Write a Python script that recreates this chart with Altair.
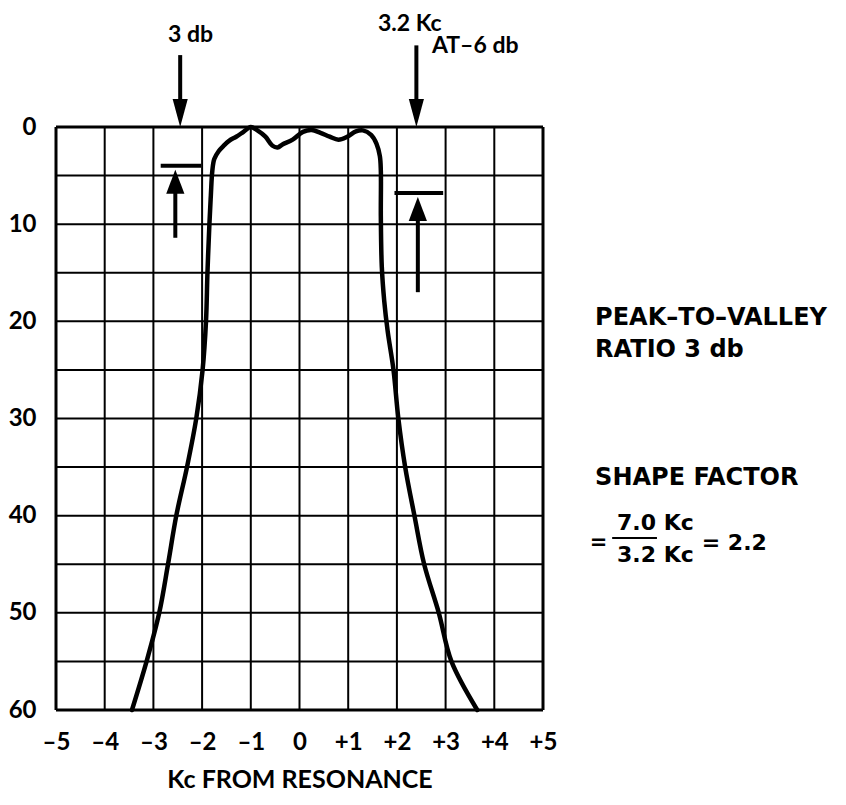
import altair as alt
import pandas as pd

# ---- curve (Kc from resonance, attenuation in db) ----
curve_kc = [-3.44, -3.14, -2.88, -2.70, -2.53, -2.31, -2.12, -1.99, -1.92, -1.89,
            -1.85, -1.82, -1.79, -1.75, -1.66, -1.55, -1.44, -1.30, -1.15, -1.00,
            -0.88, -0.70, -0.56, -0.45, -0.35, -0.14, 0.07, 0.25, 0.43, 0.62,
            0.80, 0.98, 1.16, 1.30, 1.47, 1.58, 1.65, 1.67, 1.67, 1.69,
            1.74, 1.81, 1.93, 2.03, 2.17, 2.36, 2.56, 2.86, 3.12, 3.65]
curve_db = [60, 55, 50, 45, 40, 35, 30, 25, 20, 15,
            10, 7, 4.5, 3.3, 2.5, 1.9, 1.4, 1.0, 0.5, 0.0,
            0.3, 1.0, 1.9, 2.1, 1.8, 1.3, 0.5, 0.3, 0.6, 1.0,
            1.3, 1.0, 0.45, 0.35, 0.8, 1.7, 3.0, 4.5, 9.2, 14.4,
            17.9, 21, 25, 30, 35, 40, 45, 50, 55, 60]

# ---- grid & ticks ----
grid_kc = [-4, -3, -2, -1, 0, 1, 2, 3, 4]
grid_db = [5, 10, 15, 20, 25, 30, 35, 40, 45, 50, 55]
border_kc = [-5, 5]
border_db = [0, 60]
tick_kc = [-5, -4, -3, -2, -1, 0, 1, 2, 3, 4, 5]
tick_db = [0, 10, 20, 30, 40, 50, 60]

# ---- arrows ----
shaft_kc = [-2.45, 2.40, -2.55, 2.43]
shaft_db_from = [-7.4, -8.4, 11.4, 17.0]
shaft_db_to = [-1.0, -1.0, 6.0, 9.0]
bar_kc_from = [-2.85, 1.95]
bar_kc_to = [-2.02, 2.95]
bar_db = [4.0, 6.8]
head_down_kc = [-2.45, 2.40]
head_down_db = [0.0, 0.0]
head_up_kc = [-2.55, 2.43]
head_up_db = [4.4, 7.2]

# ---- notes: top (Lato) ----
top_text = ["3 db", "3.2 Kc", "AT–6 db"]
top_kc = [-2.70, 1.61, 2.72]
top_db = [-9.47, -10.6, -8.34]
# ---- notes: right side (DejaVu) ----
side_text = ["PEAK–TO–VALLEY", "RATIO 3 db", "SHAPE FACTOR", "=", "7.0 Kc", "3.2 Kc", "= 2.2"]
side_kc = [6.07, 6.07, 6.07, 5.96, 6.52, 6.52, 8.26]
side_db = [19.66, 22.95, 36.12, 42.81, 40.75, 44.05, 42.81]
side_size = [24, 24, 24, 21, 22, 22, 22]
frac_kc = [6.42, 7.34]
frac_db = [42.3]

FONT = "Lato"
FONT2 = "DejaVu Sans"
xs = alt.Scale(domain=[-5, 5], nice=False, zero=False)
ys = alt.Scale(domain=[0, 60], nice=False, zero=False, reverse=True)

x_axis = alt.Axis(values=tick_kc,
                  labelExpr="datum.value > 0 ? '+' + datum.value : (datum.value < 0 ? '–' + abs(datum.value) : '0')",
                  title="Kc FROM RESONANCE", grid=False, ticks=False, domain=False,
                  labelFont=FONT, labelFontWeight="bold", labelFontSize=24, labelColor="black",
                  labelPadding=20, labelFlush=False, labelOverlap=False,
                  titleFont=FONT, titleFontWeight="bold", titleFontSize=25, titleColor="black",
                  titleY=77, titleBaseline="alphabetic")
y_axis = alt.Axis(values=tick_db, title="", grid=False, ticks=False, domain=False,
                  labelFont=FONT, labelFontWeight="bold", labelFontSize=24, labelColor="black",
                  labelPadding=20, labelFlush=False, labelOverlap=False)


def X(f):
    return alt.X(f, scale=xs, axis=x_axis)


def Y(f):
    return alt.Y(f, scale=ys, axis=y_axis)


vgrid = alt.Chart(pd.DataFrame({"kc": grid_kc})).mark_rule(color="black", strokeWidth=2).encode(
    x=X("kc:Q"))
hgrid = alt.Chart(pd.DataFrame({"db": grid_db})).mark_rule(color="black", strokeWidth=2).encode(
    y=Y("db:Q"))
vborder = alt.Chart(pd.DataFrame({"kc": border_kc})).mark_rule(color="black", strokeWidth=3).encode(
    x=X("kc:Q"))
hborder = alt.Chart(pd.DataFrame({"db": border_db})).mark_rule(color="black", strokeWidth=3).encode(
    y=Y("db:Q"))

curve_df = pd.DataFrame({"kc": curve_kc, "db": curve_db, "i": list(range(len(curve_kc)))})
curve = alt.Chart(curve_df).mark_line(color="black", strokeWidth=4.5, strokeJoin="round",
                                      strokeCap="round", interpolate="catmull-rom").encode(
    x=X("kc:Q"), y=Y("db:Q"), order=alt.Order("i:Q"))

shafts = alt.Chart(pd.DataFrame({"kc": shaft_kc, "a": shaft_db_from, "b": shaft_db_to})).mark_rule(
    color="black", strokeWidth=4).encode(x=X("kc:Q"), y=Y("a:Q"), y2="b:Q")
bars = alt.Chart(pd.DataFrame({"a": bar_kc_from, "b": bar_kc_to, "db": bar_db})).mark_rule(
    color="black", strokeWidth=4).encode(x=X("a:Q"), x2="b:Q", y=Y("db:Q"))
heads_down = alt.Chart(pd.DataFrame({"kc": head_down_kc, "db": head_down_db})).mark_point(
    shape="M-0.27,-1L0.27,-1L0,0Z", filled=True, color="black", opacity=1, strokeWidth=0,
    size=3136).encode(x=X("kc:Q"), y=Y("db:Q"))
heads_up = alt.Chart(pd.DataFrame({"kc": head_up_kc, "db": head_up_db})).mark_point(
    shape="M-0.38,1L0.38,1L0,0Z", filled=True, color="black", opacity=1, strokeWidth=0,
    size=2304).encode(x=X("kc:Q"), y=Y("db:Q"))

top_notes = alt.Chart(pd.DataFrame({"t": top_text, "kc": top_kc, "db": top_db})).mark_text(
    align="left", baseline="middle", font=FONT, fontWeight="bold", color="black", fontSize=23).encode(
    x=X("kc:Q"), y=Y("db:Q"), text="t:N")
side_notes = alt.Chart(pd.DataFrame({"t": side_text, "kc": side_kc, "db": side_db, "fs": side_size})).mark_text(
    align="left", baseline="middle", font=FONT2, fontWeight="bold", color="black").encode(
    x=X("kc:Q"), y=Y("db:Q"), text="t:N", size=alt.Size("fs:Q", scale=None, legend=None))
frac = alt.Chart(pd.DataFrame({"a": [frac_kc[0]], "b": [frac_kc[1]], "db": frac_db})).mark_rule(
    color="black", strokeWidth=2).encode(x=X("a:Q"), x2="b:Q", y=Y("db:Q"))

chart = alt.layer(vgrid, hgrid, vborder, hborder, curve, shafts, bars, heads_down, heads_up,
                  top_notes, side_notes, frac).properties(
    width=487, height=583,
    padding={"left": 48, "top": 119, "right": 290, "bottom": 84},
    autosize=alt.AutoSizeParams(type="none"),
    background="white",
).configure_view(stroke=None)

chart.save("out.html", embed_options={"renderer": "svg", "actions": False})
